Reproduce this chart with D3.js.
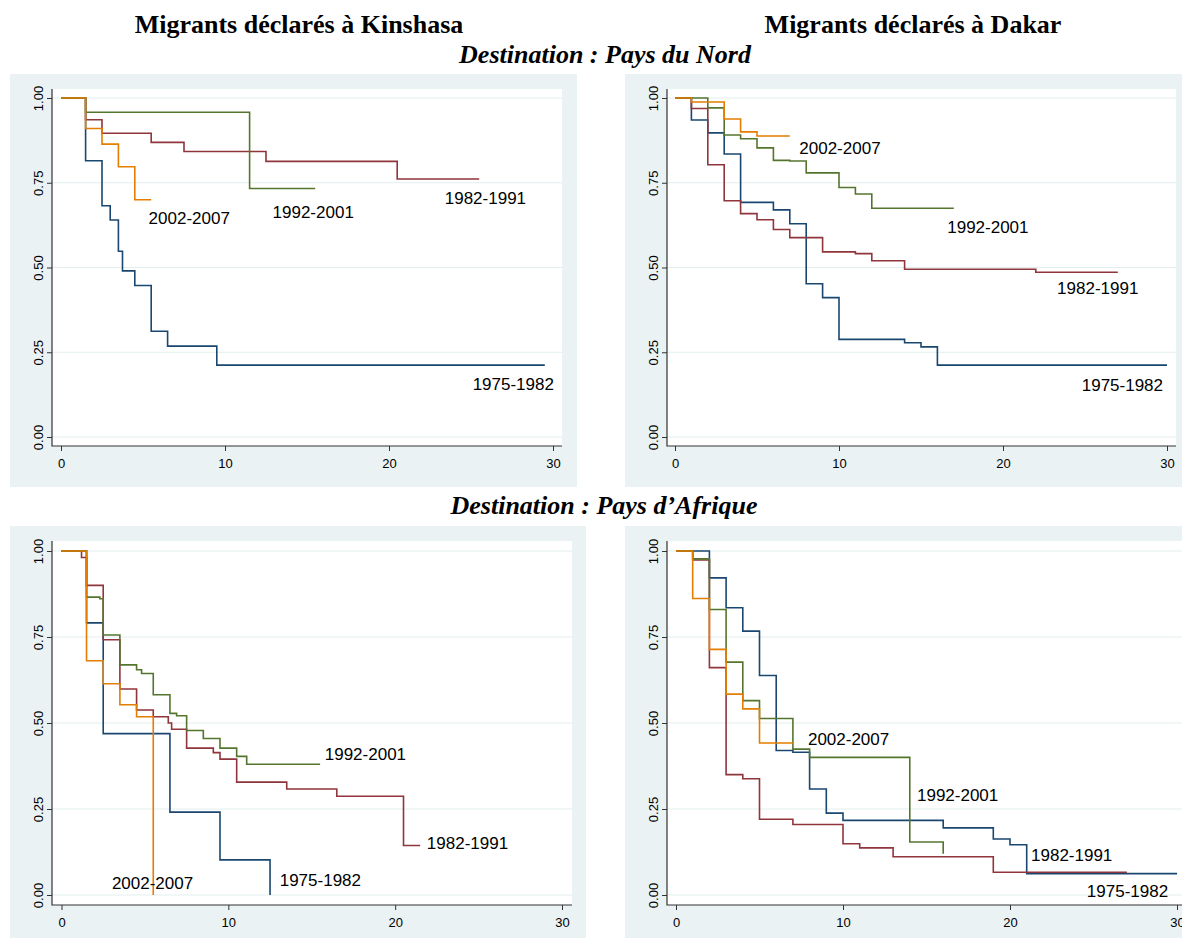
<!DOCTYPE html>
<html>
<head>
<meta charset="utf-8">
<script src="https://cdn.jsdelivr.net/npm/d3@7"></script>
<style>
  body { margin: 0; background: #fff; }
  svg text { font-family: 'Liberation Sans', Arial, sans-serif; fill: #000; }
  .title { font-family: 'Liberation Serif', 'Times New Roman', serif; font-weight: bold; }
</style>
</head>
<body>
<svg id="chart" width="1182" height="938"></svg>
<script>
// cohorts, drawn in this order
const cohorts = ['1975-1982', '1982-1991', '1992-2001', '2002-2007'];
const colors = ['#1a476f', '#90353b', '#55752f', '#e37e00'];

const xTicks = [0, 10, 20, 30];
const yTicks = [0, 0.25, 0.5, 0.75, 1];

// Kaplan-Meier steps: [years, survival]
// Kinshasa -> Nord
const kinNord75 = [[0, 1], [1.5, 0.815], [2.5, 0.682], [3, 0.64], [3.5, 0.548], [3.75, 0.49], [4.5, 0.447], [5.5, 0.312], [6.5, 0.268], [9.5, 0.212], [29.5, 0.212]];
const kinNord82 = [[0, 1], [1.5, 0.936], [2.5, 0.896], [5.5, 0.869], [7.5, 0.842], [12.5, 0.813], [20.5, 0.761], [25.5, 0.761]];
const kinNord92 = [[0, 1], [1.5, 0.958], [11.5, 0.733], [15.5, 0.733]];
const kinNord02 = [[0, 1], [1.5, 0.91], [2.5, 0.864], [3.5, 0.797], [4.5, 0.70], [5.5, 0.70]];

// Dakar -> Nord
const dakNord75 = [[0, 1], [1, 0.935], [2, 0.897], [3, 0.835], [4, 0.692], [6, 0.67], [7, 0.629], [8, 0.452], [9, 0.411], [10, 0.288], [14, 0.278], [15, 0.266], [16, 0.212], [30, 0.212]];
const dakNord82 = [[0, 1], [1, 0.969], [2, 0.803], [3, 0.697], [4, 0.659], [5, 0.641], [6, 0.612], [7, 0.588], [9, 0.546], [11, 0.541], [12, 0.52], [14, 0.495], [22, 0.486], [27, 0.486]];
const dakNord92 = [[0, 1], [2, 0.971], [3, 0.891], [4, 0.88], [5, 0.853], [6, 0.816], [7, 0.814], [8, 0.779], [10, 0.736], [11, 0.717], [12, 0.675], [17, 0.675]];
const dakNord02 = [[0, 1], [1, 0.988], [3, 0.938], [4, 0.90], [5, 0.888], [7, 0.888]];

// Kinshasa -> Afrique
const kinAfr75 = [[0, 1], [1.5, 0.791], [2.5, 0.469], [6.5, 0.241], [9.5, 0.102], [12.5, 0]];
const kinAfr82 = [[0, 1], [1.2, 0.981], [1.5, 0.90], [2.5, 0.742], [3.5, 0.599], [4.5, 0.538], [5.5, 0.518], [6.4, 0.50], [6.6, 0.482], [7.5, 0.427], [9.1, 0.414], [9.5, 0.395], [10.5, 0.328], [13.5, 0.308], [16.5, 0.287], [20.5, 0.144], [21.5, 0.144]];
const kinAfr92 = [[0, 1], [1.5, 0.866], [2.3, 0.861], [2.5, 0.756], [3.5, 0.669], [4.5, 0.655], [4.8, 0.644], [5.5, 0.582], [6.5, 0.528], [6.9, 0.521], [7.5, 0.478], [8.5, 0.455], [9.5, 0.427], [10.5, 0.403], [11.1, 0.38], [15.5, 0.38]];
const kinAfr02 = [[0, 1], [1.5, 0.681], [2.5, 0.614], [3.5, 0.553], [4.5, 0.518], [5.5, 0]];

// Dakar -> Afrique
const dakAfr75 = [[0, 1], [2, 0.922], [3, 0.835], [4, 0.767], [5, 0.638], [6, 0.42], [7, 0.415], [8, 0.308], [9, 0.238], [10, 0.217], [16, 0.195], [19, 0.163], [20, 0.146], [21, 0.062], [30, 0.062]];
const dakAfr82 = [[0, 1], [1, 0.974], [2, 0.661], [3, 0.35], [4, 0.338], [5, 0.22], [7, 0.205], [10, 0.149], [11, 0.137], [13, 0.111], [19, 0.066], [27, 0.066]];
const dakAfr92 = [[0, 1], [1, 0.977], [2, 0.83], [3, 0.677], [4, 0.565], [5, 0.513], [7, 0.424], [8, 0.40], [14, 0.154], [16, 0.12]];
const dakAfr02 = [[0, 1], [1, 0.862], [2, 0.714], [3, 0.584], [4, 0.541], [5, 0.442], [7, 0.442]];

// where each cohort label sits, in data units (left end / baseline)
const kinNordLab = [[25.1, 0.139], [23.4, 0.687], [12.9, 0.646], [5.34, 0.628]];
const dakNordLab = [[24.8, 0.136], [23.3, 0.422], [16.6, 0.602], [7.58, 0.835]];
const kinAfrLab = [[13.08, 0.026], [21.9, 0.134], [15.78, 0.392], [3.02, 0.017]];
const dakAfrLab = [[24.6, -0.006], [21.26, 0.099], [14.43, 0.273], [7.9, 0.436]];

// panel layout (outer box, plot box, scale ranges)
const panels = [
  { box: [10, 74, 567, 413], plot: [52, 562, 89, 446], xr: [61, 553], yr: [437, 98],
    series: [kinNord75, kinNord82, kinNord92, kinNord02], labels: kinNordLab },
  { box: [625, 74, 557, 413], plot: [667, 1176, 89, 446], xr: [675, 1167], yr: [437, 98],
    series: [dakNord75, dakNord82, dakNord92, dakNord02], labels: dakNordLab },
  { box: [10, 526, 576, 413], plot: [52, 572, 541, 905], xr: [61.5, 562], yr: [895, 551],
    series: [kinAfr75, kinAfr82, kinAfr92, kinAfr02], labels: kinAfrLab },
  { box: [625, 526, 576, 413], plot: [667, 1187, 541, 905], xr: [676, 1177], yr: [895, 551],
    series: [dakAfr75, dakAfr82, dakAfr92, dakAfr02], labels: dakAfrLab },
];

const svg = d3.select('#chart');

panels.forEach(p => {
  const [l, r, t, b] = p.plot;
  const x = d3.scaleLinear().domain([0, 30]).range(p.xr);
  const y = d3.scaleLinear().domain([0, 1]).range(p.yr);
  const g = svg.append('g');

  g.append('rect')
    .attr('x', p.box[0]).attr('y', p.box[1])
    .attr('width', p.box[2]).attr('height', p.box[3])
    .attr('fill', '#eaf2f3');

  g.append('rect')
    .attr('x', l).attr('y', t)
    .attr('width', r - l).attr('height', b - t)
    .attr('fill', '#fff');

  // grid
  g.selectAll('.grid')
    .data(yTicks)
    .enter().append('line')
      .attr('x1', l).attr('x2', r)
      .attr('y1', d => y(d)).attr('y2', d => y(d))
      .attr('stroke', '#e3edee')
      .attr('stroke-width', 1.2);

  // y axis
  const ya = g.append('g')
    .attr('transform', `translate(${l},0)`)
    .call(d3.axisLeft(y).tickValues(yTicks).tickFormat(d3.format('.2f')).tickSize(5));
  ya.select('.domain').remove();
  ya.selectAll('line').attr('stroke', '#333');
  ya.selectAll('text')
    .attr('transform', 'rotate(-90)')
    .attr('x', 0).attr('y', -9).attr('dy', 0)
    .attr('text-anchor', 'middle')
    .style('font-size', '13px');

  // x axis
  const xa = g.append('g')
    .attr('transform', `translate(0,${b})`)
    .call(d3.axisBottom(x).tickValues(xTicks).tickSize(5));
  xa.select('.domain').remove();
  xa.selectAll('line').attr('stroke', '#333');
  xa.selectAll('text')
    .attr('y', 13)
    .style('font-size', '13px');

  g.append('path')
    .attr('d', `M${l},${t}V${b}H${r}`)
    .attr('fill', 'none')
    .attr('stroke', '#333')
    .attr('stroke-width', 1.2);

  const line = d3.line()
    .x(d => x(d[0]))
    .y(d => y(d[1]))
    .curve(d3.curveStepAfter);

  g.selectAll('.km')
    .data(p.series)
    .enter().append('path')
      .attr('d', line)
      .attr('fill', 'none')
      .attr('stroke', (d, i) => colors[i])
      .attr('stroke-width', 1.6);

  g.selectAll('.lab')
    .data(p.labels)
    .enter().append('text')
      .attr('x', d => x(d[0]))
      .attr('y', d => y(d[1]))
      .style('font-size', '17px')
      .text((d, i) => cohorts[i]);
});

// titles
const titles = [
  ['Migrants déclarés à Kinshasa', 299, 33, 'normal'],
  ['Migrants déclarés à Dakar', 913, 33, 'normal'],
  ['Destination : Pays du Nord', 605, 63, 'italic'],
  ['Destination : Pays d’Afrique', 604, 514, 'italic'],
];

svg.selectAll('.title')
  .data(titles)
  .enter().append('text')
    .attr('class', 'title')
    .attr('x', d => d[1])
    .attr('y', d => d[2])
    .attr('text-anchor', 'middle')
    .style('font-size', '26px')
    .style('font-style', d => d[3])
    .text(d => d[0]);
</script>
</body>
</html>
